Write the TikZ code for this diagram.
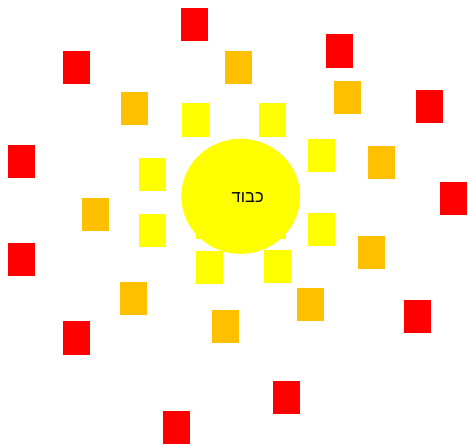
\documentclass[tikz,border=0pt]{standalone}
\usepackage{fontspec}
\usetikzlibrary{shapes.geometric}
\newfontfamily\hebfont[Script=Hebrew]{Liberation Sans}
\TeXXeTstate=1
\definecolor{orsq}{HTML}{FFC000}
\definecolor{resq}{HTML}{FF0000}
\definecolor{ysq}{HTML}{FFFF00}
\begin{document}
\begin{tikzpicture}[x=1pt,y=-1pt,
  sq/.style={minimum width=27pt,minimum height=33.3pt,inner sep=0pt,draw=none},
  redsq/.style={sq,fill=resq},
  orsq/.style={sq,fill=orsq},
  yesq/.style={sq,fill=ysq}]
\useasboundingbox (0,0) rectangle (468,446);
% red
\node[redsq] (r1) at (194.8,24.7) {};
\node[redsq] (r2) at (76.5,67.7) {};
\node[redsq] (r3) at (339.5,51) {};
\node[redsq] (r4) at (429.5,106.7) {};
\node[redsq] (r5) at (21.2,161.2) {};
\node[redsq] (r6) at (453.8,198.8) {};
\node[redsq] (r7) at (21.2,259.2) {};
\node[redsq] (r8) at (417.2,316.7) {};
\node[redsq] (r9) at (76.5,338) {};
\node[redsq] (r10) at (286.8,397.5) {};
\node[redsq] (r11) at (176.2,427.8) {};
% orange
\node[orsq] (o1) at (238.5,67.3) {};
\node[orsq] (o2) at (134.3,108.8) {};
\node[orsq] (o3) at (347.2,97.8) {};
\node[orsq] (o4) at (381.5,162.7) {};
\node[orsq] (o5) at (95.5,214.8) {};
\node[orsq] (o6) at (371.5,252.5) {};
\node[orsq] (o7) at (133.3,298.3) {};
\node[orsq] (o8) at (310.3,304.8) {};
\node[orsq] (o9) at (225.3,326.2) {};
% yellow
\node[yesq] (y9) at (209.5,222.5) {};
\node[yesq] (y10) at (272,222.5) {};
\node[yesq] (y1) at (195.2,120) {};
\node[yesq] (y2) at (272.7,120) {};
\node[yesq] (y3) at (321,155.7) {};
\node[yesq] (y4) at (152.3,174.2) {};
\node[yesq] (y5) at (152.3,230.3) {};
\node[yesq] (y6) at (321,229.8) {};
\node[yesq] (y7) at (209.3,267.8) {};
\node[yesq] (y8) at (277.5,266.8) {};
% sun
\node[ellipse,minimum width=118.7pt,minimum height=115pt,fill=ysq,inner sep=0pt] (sun) at (240.7,196.3) {};
\node[font=\hebfont\fontsize{16.5}{19}\selectfont,inner sep=0pt] (lbl) at (247.7,197.5) {\beginR כבוד\endR};
\end{tikzpicture}
\end{document}
